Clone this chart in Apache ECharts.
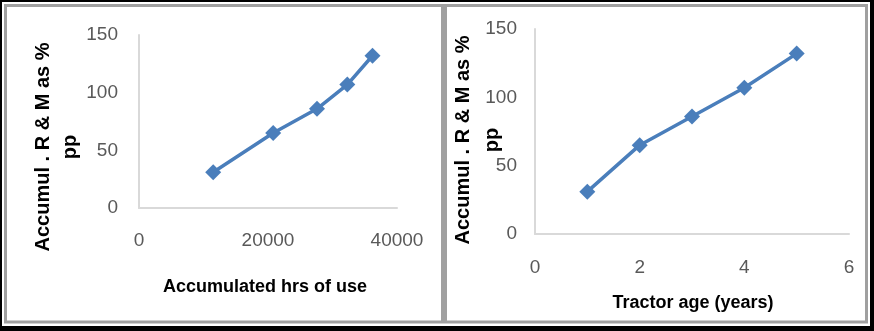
<!DOCTYPE html>
<html>
<head>
<meta charset="utf-8">
<script src="https://cdn.jsdelivr.net/npm/echarts@6/dist/echarts.min.js"></script>
<style>
html,body{margin:0;padding:0;background:#fff;}
#c{width:874px;height:331px;}
</style>
</head>
<body>
<div id="c"></div>
<script>
// Data
const hoursOfUse = [11500, 20800, 27600, 32300, 36200];
const tractorAge = [1, 2, 3, 4, 5];
const accumRM = [31, 65, 86, 107, 132];
const yTicks = [0, 50, 100, 150];
const leftXTicks = [0, 20000, 40000];
const rightXTicks = [0, 2, 4, 6];
const yName = 'Accumul . R & M as %\npp';
const leftXName = 'Accumulated hrs of use';
const rightXName = 'Tractor age (years)';

const FONT = '"Liberation Sans", Arial, sans-serif';
const tickStyle = {color: '#595959', fontSize: 19, fontFamily: FONT, formatter: v => String(v)};
const axisLine = {show: true, lineStyle: {color: '#d9d9d9', width: 2}};
const lineColor = '#4a7ebb';

const chart = echarts.init(document.getElementById('c'), null, {renderer: 'canvas'});
const option = {
  animation: false,
  backgroundColor: '#fff',
  grid: [
    {left: 139, top: 35, width: 258, height: 173},
    {left: 535, top: 29, width: 314, height: 205}
  ],
  xAxis: [
    {gridIndex: 0, type: 'value', min: leftXTicks[0], max: leftXTicks[leftXTicks.length-1], interval: leftXTicks[1]-leftXTicks[0],
     axisLine: axisLine, axisTick: {show: false}, splitLine: {show: false},
     axisLabel: Object.assign({margin: 23}, tickStyle)},
    {gridIndex: 1, type: 'value', min: rightXTicks[0], max: rightXTicks[rightXTicks.length-1], interval: rightXTicks[1]-rightXTicks[0],
     axisLine: axisLine, axisTick: {show: false}, splitLine: {show: false},
     axisLabel: Object.assign({margin: 24}, tickStyle)}
  ],
  yAxis: [
    {gridIndex: 0, type: 'value', min: yTicks[0], max: yTicks[yTicks.length-1], interval: yTicks[1]-yTicks[0],
     axisLine: axisLine, axisTick: {show: false}, splitLine: {show: false},
     axisLabel: Object.assign({margin: 21}, tickStyle)},
    {gridIndex: 1, type: 'value', min: yTicks[0], max: yTicks[yTicks.length-1], interval: yTicks[1]-yTicks[0],
     axisLine: axisLine, axisTick: {show: false}, splitLine: {show: false},
     axisLabel: Object.assign({margin: 18}, tickStyle)}
  ],
  series: [
    {type: 'line', xAxisIndex: 0, yAxisIndex: 0,
     data: hoursOfUse.map((x, i) => [x, accumRM[i]]),
     symbol: 'diamond', symbolSize: 16,
     lineStyle: {color: lineColor, width: 3.5}, itemStyle: {color: lineColor}},
    {type: 'line', xAxisIndex: 1, yAxisIndex: 1,
     data: tractorAge.map((x, i) => [x, accumRM[i]]),
     symbol: 'diamond', symbolSize: 16,
     lineStyle: {color: lineColor, width: 3.5}, itemStyle: {color: lineColor}}
  ],
  graphic: [
    // outer black frame
    {type: 'rect', shape: {x: 0, y: 0, width: 874, height: 2}, style: {fill: '#000'}, silent: true},
    {type: 'rect', shape: {x: 0, y: 0, width: 2, height: 331}, style: {fill: '#000'}, silent: true},
    {type: 'rect', shape: {x: 0, y: 326, width: 874, height: 5}, style: {fill: '#000'}, silent: true},
    {type: 'rect', shape: {x: 870, y: 0, width: 4, height: 331}, style: {fill: '#000'}, silent: true},
    // panel borders
    {type: 'rect', shape: {x: 5.5, y: 5.5, width: 437, height: 316.5}, style: {fill: 'none', stroke: '#a0a0a0', lineWidth: 3}, silent: true},
    {type: 'rect', shape: {x: 445.5, y: 5.5, width: 421, height: 316.5}, style: {fill: 'none', stroke: '#a0a0a0', lineWidth: 3}, silent: true},
    // axis titles
    {type: 'text', x: 57, y: 147, rotation: Math.PI/2,
     style: {text: yName, fontSize: 20, fontWeight: 'bold', fontFamily: FONT, fill: '#000', align: 'center', verticalAlign: 'middle', lineHeight: 27}},
    {type: 'text', x: 478, y: 140, rotation: Math.PI/2,
     style: {text: yName, fontSize: 20, fontWeight: 'bold', fontFamily: FONT, fill: '#000', align: 'center', verticalAlign: 'middle', lineHeight: 29}},
    {type: 'text', x: 265, y: 287,
     style: {text: leftXName, fontSize: 18, fontWeight: 'bold', fontFamily: FONT, fill: '#000', align: 'center', verticalAlign: 'middle'}},
    {type: 'text', x: 693, y: 303,
     style: {text: rightXName, fontSize: 18, fontWeight: 'bold', fontFamily: FONT, fill: '#000', align: 'center', verticalAlign: 'middle'}}
  ]
};
chart.setOption(option);
</script>
</body>
</html>
